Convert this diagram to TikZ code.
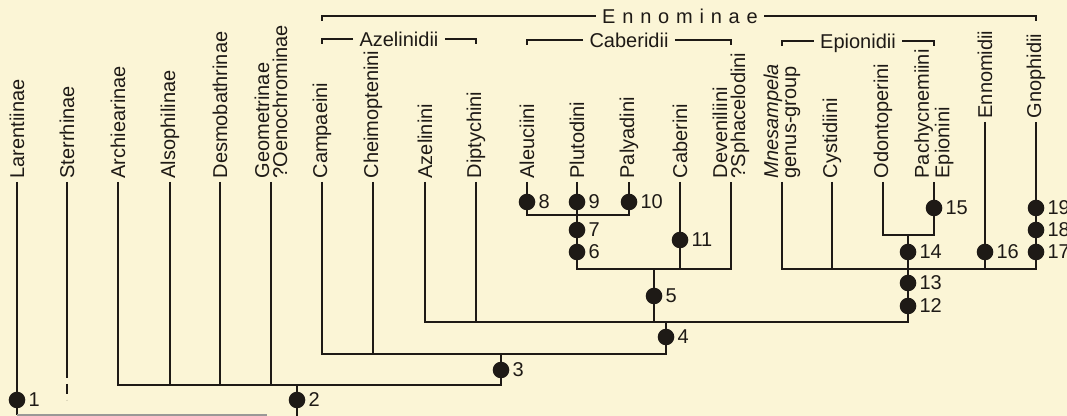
\documentclass[tikz,border=0pt]{standalone}
\usepackage{fontspec}
\setmainfont{Liberation Sans}
\definecolor{paper}{RGB}{251,245,214}
\definecolor{ink}{RGB}{30,26,22}
\tikzset{
  leaf/.style={rotate=90,anchor=west,inner sep=1.6pt,align=left,
    font=\fontsize{10}{9}\selectfont,text=ink},
  dot/.style={circle,fill=ink,inner sep=0pt,minimum size=8.3pt},
  num/.style={font=\fontsize{10}{10}\selectfont,text=ink,inner sep=1.2pt},
  branch/.style={draw=ink,line width=0.65pt},
  clade/.style={font=\fontsize{10}{10}\selectfont,text=ink,inner sep=3pt,
    text height=0.72em,text depth=0pt}
}
\begin{document}
\begin{tikzpicture}[x=0.5pt,y=-0.5pt]
  \fill[paper] (0,0) rectangle (1067,416);
  \useasboundingbox (0,0) rectangle (1067,416);
  % taxa
  \foreach \x/\n/\t in {17/lar/Larentiinae, 67/ste/Sterrhinae,
      118/arc/Archiearinae, 170/als/Alsophilinae, 220/des/Desmobathrinae,
      271/geo/{Geometrinae\\?Oenochrominae}, 322/cam/Campaeini,
      373/che/Cheimoptenini, 425/aze/Azelinini, 476/dip/Diptychini,
      527/ale/Aleuciini, 577/plu/Plutodini, 629/pal/Palyadini,
      680/cab/Caberini, 731/dev/{Deveniliini\\?Sphacelodini},
      782/mne/{\textit{Mnesampela}\\genus-group}, 832/cys/Cystidiini,
      883/odo/Odontoperini, 934/pac/{Pachycnemiini\\Epionini}}
    \node[leaf] (\n) at (\x,182) {\t};
  \node[leaf] (enn) at (985,122) {Ennomidii};
  \node[leaf] (gno) at (1036,122) {Gnophidii};
  % junctions
  \coordinate (j1) at (17,415);
  \coordinate (cut) at (267,415);
  \coordinate (j2) at (297,385);
  \coordinate (root) at (297,416);
  \coordinate (j3) at (501,354);
  \coordinate (j4) at (666,322);
  \coordinate (j5) at (654,269);
  \coordinate (j6) at (577,215);
  \coordinate (j12) at (908,269);
  \coordinate (j14) at (908,235);
  \coordinate (stemid) at (67,368);
  \coordinate (steend) at (67,400);
  % branches
  \draw[branch] (lar.west) -- (j1);
  \draw[branch,draw=ink!45] (j1) -- (cut);
  \draw[branch] (ste.west) -- (stemid);
  \draw[branch,dash pattern=on 5pt off 3pt] (stemid) -- (steend);
  \draw[branch] (arc.west) |- (j3 |- j2) -- (j3);
  \foreach \n in {als,des,geo} \draw[branch] (\n.west) -- (\n.west |- j2);
  \draw[branch] (j2) -- (root);
  \draw[branch] (cam.west) |- (j4 |- j3) -- (j4);
  \draw[branch] (che.west) -- (che.west |- j3);
  \draw[branch] (aze.west) |- (j12 |- j4) -- (j12);
  \draw[branch] (dip.west) -- (dip.west |- j4);
  \draw[branch] (j5) -- (j5 |- j4);
  \draw[branch] (j6) -- (j6 |- j5) -| (dev.west);
  \draw[branch] (cab.west) -- (cab.west |- j5);
  \draw[branch] (ale.west) |- (j6) -| (pal.west);
  \draw[branch] (plu.west) -- (j6);
  \draw[branch] (mne.west) |- (j12) -| (gno.west);
  \foreach \n in {cys,enn} \draw[branch] (\n.west) -- (\n.west |- j12);
  \draw[branch] (odo.west) |- (j14) -| (pac.west);
  \draw[branch] (j14) -- (j12);
  % character dots
  \foreach \x/\y/\k in {17/400/1, 297/400/2, 501/370/3, 666/337/4,
      654/296/5, 577/252/6, 577/230/7, 527/202/8, 577/202/9, 629/202/10,
      680/240/11, 908/306/12, 908/283/13, 908/252/14, 934/208/15,
      985/252/16, 1036/252/17, 1036/230/18, 1036/208/19}
    \node[dot,label={[num]right:\k}] (d\k) at (\x,\y) {};
  % groups
  \node[clade] (ennt) at (680,16) {\spaceskip=0.34em E n n o m i n a e};
  \draw[branch] (ennt.west) -- (cam.west |- ennt) -- ++(0,5);
  \draw[branch] (ennt.east) -- (gno.west |- ennt) -- ++(0,5);
  \node[clade] (azet) at (399,39) {Azelinidii};
  \draw[branch] (azet.west) -- (cam.west |- azet) -- ++(0,5);
  \draw[branch] (azet.east) -- (dip.west |- azet) -- ++(0,5);
  \node[clade] (cabt) at (629,40) {Caberidii};
  \draw[branch] (cabt.west) -- (ale.west |- cabt) -- ++(0,5);
  \draw[branch] (cabt.east) -- (dev.west |- cabt) -- ++(0,5);
  \node[clade] (epit) at (858,41) {Epionidii};
  \draw[branch] (epit.west) -- (mne.west |- epit) -- ++(0,5);
  \draw[branch] (epit.east) -- (pac.west |- epit) -- ++(0,5);
\end{tikzpicture}
\end{document}
